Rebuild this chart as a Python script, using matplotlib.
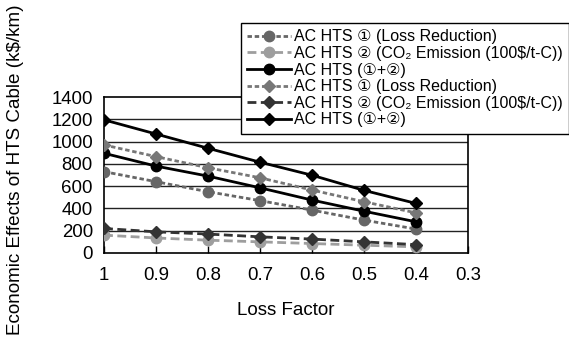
import numpy as np
import matplotlib
matplotlib.use("Agg")
import matplotlib.pyplot as plt

plt.rcParams['font.family'] = ['Liberation Sans', 'DejaVu Sans']

loss_factor = [1.0, 0.9, 0.8, 0.7, 0.6, 0.5, 0.4]

# circles
circ_loss = [730, 640, 550, 470, 385, 295, 215]
circ_co2 = [160, 135, 115, 100, 85, 70, 55]
circ_total = [895, 780, 690, 585, 475, 375, 280]
# diamonds
diam_loss = [970, 865, 765, 675, 565, 460, 360]
diam_co2 = [220, 190, 170, 145, 125, 100, 75]
diam_total = [1195, 1068, 940, 815, 698, 562, 445]

labels = ["AC HTS \u2460 (Loss Reduction)",
          "AC HTS \u2461 (CO\u2082 Emission (100$/t-C))",
          "AC HTS (\u2460+\u2461)"]

yticks = [0, 200, 400, 600, 800, 1000, 1200, 1400]
xticks = [1, 0.9, 0.8, 0.7, 0.6, 0.5, 0.4, 0.3]
xticklabels = ["1", "0.9", "0.8", "0.7", "0.6", "0.5", "0.4", "0.3"]

fig = plt.figure(figsize=(5.69, 3.38), dpi=100)
ax = fig.add_axes([0.1828, 0.2515, 0.6397, 0.4615])

for y in yticks[1:-1]:
    ax.axhline(y, color='#222222', lw=1.0, zorder=1)

dotted = (0, (1.6, 1.0))
dashed = (0, (3.2, 1.6))
ms = 7.5
dms = 6.5

ax.plot(loss_factor, circ_loss, color='#666666', ls=dotted, lw=2, marker='o', ms=ms, label=labels[0], zorder=3)
ax.plot(loss_factor, circ_co2, color='#9e9e9e', ls=dashed, lw=2, marker='o', ms=ms, label=labels[1], zorder=3)
ax.plot(loss_factor, circ_total, color='black', ls='-', lw=2, marker='o', ms=ms, label=labels[2], zorder=3)
ax.plot(loss_factor, diam_loss, color='#777777', ls=dotted, lw=2, marker='D', ms=dms, label=labels[0], zorder=3)
ax.plot(loss_factor, diam_co2, color='#333333', ls=dashed, lw=2, marker='D', ms=dms, label=labels[1], zorder=3)
ax.plot(loss_factor, diam_total, color='black', ls='-', lw=2, marker='D', ms=dms, label=labels[2], zorder=3)

ax.set_xlim(1, 0.3)
ax.set_ylim(0, 1400)
ax.set_xticks(xticks)
ax.set_xticklabels(xticklabels)
ax.set_yticks(yticks)
ax.tick_params(axis='x', direction='in', length=5, width=1, labelsize=13.4, pad=10)
ax.tick_params(axis='y', length=0, labelsize=13.4, pad=8)
for s in ax.spines.values():
    s.set_linewidth(1.2)
    s.set_color('black')

ax.set_xlabel("Loss Factor", fontsize=13.5, labelpad=13)
fig.text(0.027, 0.497, "Economic Effects of HTS Cable (k$/km)", rotation=90,
         fontsize=13.6, ha='center', va='center')

leg = fig.legend(loc='upper left', bbox_to_anchor=(0.4236, 0.932),
                 bbox_transform=fig.transFigure, borderaxespad=0,
                 fontsize=11.5, handlelength=2.7, handletextpad=0.2,
                 labelspacing=0.1, borderpad=0.4, fancybox=False,
                 framealpha=1, edgecolor='black')
leg.get_frame().set_linewidth(1.0)
leg.set_zorder(5)

fig.savefig("out.png", dpi=100)
